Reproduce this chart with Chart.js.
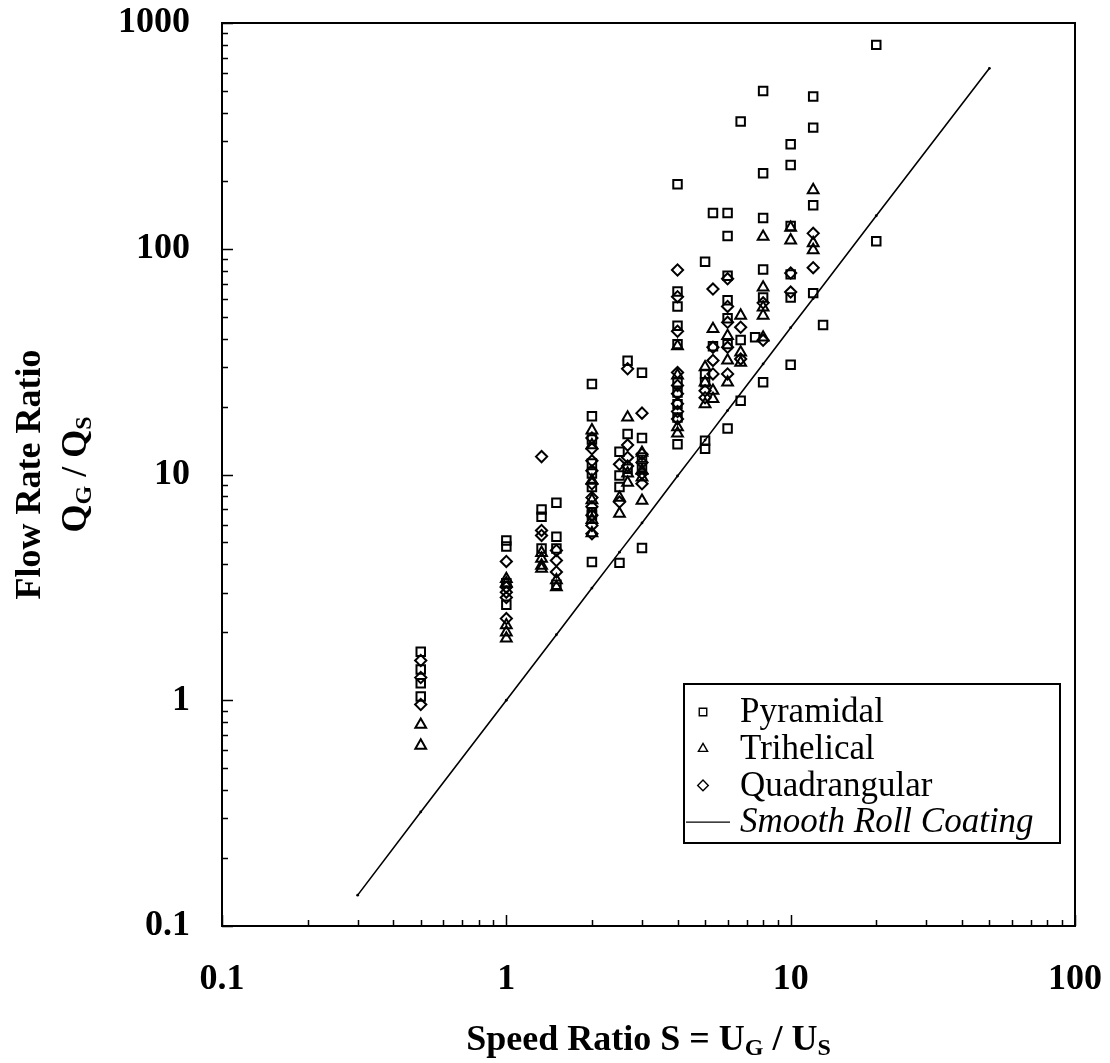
<!DOCTYPE html>
<html>
<head>
<meta charset="utf-8">
<title>Flow Rate Ratio vs Speed Ratio</title>
<script src="https://cdn.jsdelivr.net/npm/chart.js@4.4.1/dist/chart.umd.min.js"></script>
<style>
  html, body { margin: 0; padding: 0; background: #fff; }
  #wrap { width: 1110px; height: 1063px; }
</style>
</head>
<body>
<div id="wrap"><canvas id="chart" width="1110" height="1063"></canvas></div>
<script>
// axis decades (tick labels)
const xTickLabels = [0.1, 1, 10, 100];
const yTickLabels = [0.1, 1, 10, 100, 1000];

// Pyramidal roll: speed ratio S and flow rate ratio QG/QS
const pyramidalS = [
    0.5, 0.5, 0.5, 0.5,
    1, 1, 1, 1,
    1.33, 1.33, 1.33,
    1.5, 1.5, 1.5, 1.5,
    2, 2, 2, 2, 2, 2, 2, 2, 2,
    2.5, 2.5, 2.5, 2.5,
    2.67, 2.67, 2.67,
    3, 3, 3, 3, 3,
    4, 4, 4, 4, 4, 4, 4, 4, 4, 4,
    5, 5, 5, 5, 5,
    5.33, 5.33,
    6, 6, 6, 6, 6, 6, 6,
    6.67, 6.67, 6.67,
    7.5,
    8, 8, 8, 8, 8, 8,
    10, 10, 10, 10, 10, 10,
    12, 12, 12, 12,
    13,
    20, 20
];
const pyramidalQ = [
    1.64, 1.37, 1.19, 1.04,
    5.1, 4.8, 3.3, 2.65,
    7.0, 6.5, 4.7,
    7.5, 5.3, 4.7, 3.25,
    25.2, 18.1, 14.3, 11.2, 10.1, 8.8, 6.8, 6.6, 4.1,
    12.6, 9.9, 8.8, 4.06,
    31.9, 15.1, 10.6,
    28.2, 14.5, 11.9, 10.7, 4.72,
    193, 64.7, 55.5, 45.6, 37.8, 25.6, 23.1, 20.5, 17.9, 13.6,
    87.6, 27.9, 25.6, 14.1, 13.0,
    144, 37,
    144, 114, 76, 59.2, 49.2, 37.8, 16.0,
    366, 39.4, 21.2,
    40.5,
    500, 216, 137, 81, 60.8, 25.6,
    290, 235, 126, 77, 60.8, 30.6,
    472, 344, 156, 63.6,
    45.9,
    800, 108
];

// Trihelical roll
const trihelicalS = [
    0.5, 0.5,
    1, 1, 1, 1, 1,
    1.33, 1.33, 1.33, 1.33,
    1.5, 1.5,
    2, 2, 2, 2, 2, 2,
    2.5, 2.5,
    2.67, 2.67, 2.67,
    3, 3, 3, 3,
    4, 4, 4, 4,
    5, 5, 5,
    5.33, 5.33, 5.33,
    6, 6, 6,
    6.67, 6.67, 6.67,
    8, 8, 8, 8, 8,
    10, 10,
    12, 12, 12
];
const trihelicalQ = [
    0.78, 0.63,
    3.45, 3.3, 2.15, 2.0, 1.88,
    4.5, 4.24, 3.95, 3.83,
    3.4, 3.17,
    15.7, 13.5, 9.4, 7.7, 6.3, 5.5,
    7.9, 6.7,
    17.9, 10.1, 9.2,
    12.5, 10.4, 9.7, 7.66,
    37, 27.5, 16.2, 15.2,
    29.9, 25.6, 20.5,
    44.1, 23.5, 21.6,
    41.1, 32, 25.6,
    50.6, 34.7, 31.3,
    113, 67.4, 55, 50.6, 40.5,
    124, 109,
    182, 106, 98.7
];

// Quadrangular roll
const quadrangularS = [
    0.5, 0.5, 0.5,
    1, 1, 1, 1, 1,
    1.33, 1.33, 1.33,
    1.5, 1.5, 1.5,
    2, 2, 2, 2, 2, 2, 2, 2, 2, 2,
    2.5, 2.5,
    2.67, 2.67, 2.67, 2.67,
    3, 3, 3, 3, 3,
    4, 4, 4, 4, 4, 4, 4, 4, 4,
    5, 5,
    5.33, 5.33, 5.33, 5.33,
    6, 6, 6, 6, 6,
    6.67, 6.67,
    8, 8,
    10, 10,
    12, 12
];
const quadrangularQ = [
    1.50, 1.26, 0.957,
    4.12, 3.17, 3.01, 2.85, 2.3,
    12.0, 5.65, 5.37,
    4.61, 4.16, 3.70,
    14.5, 13.0, 11.5, 10.4, 9.1, 7.9, 7.2, 6.6, 5.95, 5.47,
    11.1, 7.55,
    29.4, 13.5, 11.9, 10.9,
    18.7, 12.3, 11.3, 10.1, 9.1,
    80.5, 61.3, 43.1, 28.3, 24.8, 22.8, 20.6, 19, 17.6,
    23.5, 21.9,
    66.3, 36.6, 32, 27.9,
    73.6, 55.5, 47.2, 36.6, 27.9,
    44.9, 32.5,
    57.6, 39.3,
    78, 64.3,
    117, 82.4
];

// Smooth roll coating reference line
const smoothS = [0.3, 0.5, 1, 1.5, 2, 2.5, 3, 4, 5, 6, 8, 10, 12, 20, 50];
const smoothQ = [0.137, 0.32, 1.0, 1.95, 3.14, 4.53, 6.1, 9.85, 14.2, 19.2, 30.9, 44.7, 60.2, 140, 630];

const SERIF = '"Liberation Serif", "Times New Roman", serif';

function zip(xs, ys) {
    return xs.map((x, i) => ({ x: x, y: ys[i] }));
}

// 1..9 in every decade between the labelled decades
function logTicks(decades) {
    const ticks = [];
    for (let i = 0; i < decades.length - 1; i++) {
        for (let m = 1; m < 10; m++) {
            ticks.push({ value: parseFloat((decades[i] * m).toPrecision(6)) });
        }
    }
    ticks.push({ value: decades[decades.length - 1] });
    return ticks;
}

function isDecade(v) {
    const l = Math.log10(v);
    return Math.abs(l - Math.round(l)) < 1e-6;
}

// text with subscripts: parts = [[text, isSub], ...]
function drawParts(ctx, parts, x, y, size) {
    const big = `bold ${size}px ${SERIF}`;
    const small = `bold ${Math.round(size * 0.66)}px ${SERIF}`;
    let total = 0;
    parts.forEach(([t, sub]) => {
        ctx.font = sub ? small : big;
        total += ctx.measureText(t).width;
    });
    let cx = x - total / 2;
    ctx.textAlign = "left";
    ctx.textBaseline = "alphabetic";
    parts.forEach(([t, sub]) => {
        ctx.font = sub ? small : big;
        ctx.fillText(t, cx, sub ? y + 5 : y);
        cx += ctx.measureText(t).width;
    });
}

// frame, inside ticks, axis titles and the boxed legend
const framePlugin = {
    id: "frame",
    beforeDraw(chart) {
        const ctx = chart.ctx;
        ctx.save();
        ctx.fillStyle = "#fff";
        ctx.fillRect(0, 0, chart.width, chart.height);
        ctx.restore();
    },
    afterDraw(chart) {
        const ctx = chart.ctx;
        const { left, right, top, bottom } = chart.chartArea;
        const xs = chart.scales.x;
        const ys = chart.scales.y;

        ctx.save();
        ctx.strokeStyle = "#000";
        ctx.fillStyle = "#000";
        ctx.lineWidth = 2;
        ctx.strokeRect(left, top, right - left, bottom - top);

        ctx.lineWidth = 1.5;
        ctx.beginPath();
        xs.ticks.forEach(t => {
            const px = Math.round(xs.getPixelForValue(t.value)) + 0.5;
            const len = isDecade(t.value) ? 11 : 6;
            ctx.moveTo(px, bottom);
            ctx.lineTo(px, bottom - len);
        });
        ys.ticks.forEach(t => {
            const py = Math.round(ys.getPixelForValue(t.value)) + 0.5;
            const len = isDecade(t.value) ? 11 : 6;
            ctx.moveTo(left, py);
            ctx.lineTo(left + len, py);
        });
        ctx.stroke();

        // x title
        drawParts(ctx, [["Speed Ratio S = U", false], ["G", true], [" / U", false], ["S", true]],
            (left + right) / 2, 1050, 36);

        // y title, rotated
        ctx.save();
        ctx.translate(0, (top + bottom) / 2);
        ctx.rotate(-Math.PI / 2);
        ctx.font = `bold 36px ${SERIF}`;
        ctx.textAlign = "center";
        ctx.textBaseline = "alphabetic";
        ctx.fillText("Flow Rate Ratio", 0, 40);
        drawParts(ctx, [["Q", false], ["G", true], [" / Q", false], ["S", true]], 0, 86, 36);
        ctx.restore();

        // legend
        const bx = 684, by = 684, bw = 376, bh = 159;
        ctx.lineWidth = 2;
        ctx.strokeRect(bx, by, bw, bh);
        chart.data.datasets.forEach((ds, i) => {
            const ry = 712 + i * 36.7;
            ctx.lineWidth = 1.4;
            if (ds.showLine) {
                ctx.beginPath();
                ctx.moveTo(bx + 2, ry);
                ctx.lineTo(bx + 46, ry);
                ctx.stroke();
                ctx.font = `italic 35px ${SERIF}`;
            } else {
                ctx.fillStyle = "rgba(0,0,0,0)";
                Chart.helpers.drawPoint(ctx, { pointStyle: ds.pointStyle, radius: 5.3, rotation: 0, borderWidth: 1.4 }, 703, ry);
                ctx.fillStyle = "#000";
                ctx.font = `35px ${SERIF}`;
            }
            ctx.textAlign = "left";
            ctx.textBaseline = "middle";
            ctx.fillText(ds.label, 740, ry + 1);
        });
        ctx.restore();
    }
};

function markerSet(label, xs, ys, style, radius) {
    return {
        label: label,
        data: zip(xs, ys),
        pointStyle: style,
        pointRadius: radius,
        pointBorderWidth: 2,
        pointBorderColor: "#000",
        pointBackgroundColor: "rgba(0,0,0,0)",
        showLine: false
    };
}

const tickFont = { family: SERIF, size: 36, weight: "bold" };

new Chart(document.getElementById("chart"), {
    type: "scatter",
    data: {
        datasets: [
            markerSet("Pyramidal", pyramidalS, pyramidalQ, "rect", 6),
            markerSet("Trihelical", trihelicalS, trihelicalQ, "triangle", 6.2),
            markerSet("Quadrangular", quadrangularS, quadrangularQ, "rectRot", 5.6),
            {
                label: "Smooth Roll Coating",
                data: zip(smoothS, smoothQ),
                showLine: true,
                borderColor: "#000",
                borderWidth: 1.6,
                pointStyle: "circle",
                pointRadius: 1.4,
                pointBackgroundColor: "#000",
                pointBorderWidth: 0
            }
        ]
    },
    options: {
        responsive: false,
        animation: false,
        layout: { padding: { top: 23, right: 35, left: 0, bottom: 0 } },
        plugins: {
            legend: { display: false },
            tooltip: { enabled: false }
        },
        scales: {
            x: {
                type: "logarithmic",
                min: 0.1,
                max: 100,
                grid: { display: false, drawTicks: false },
                border: { display: false },
                afterBuildTicks: scale => { scale.ticks = logTicks(xTickLabels); },
                afterFit: scale => {
                    scale.height = 137;
                    scale.paddingLeft = 0;
                    scale.paddingRight = 0;
                },
                ticks: {
                    color: "#000",
                    font: tickFont,
                    padding: 32,
                    autoSkip: false,
                    maxRotation: 0,
                    minRotation: 0,
                    callback: v => xTickLabels.includes(v) ? String(v) : ""
                }
            },
            y: {
                type: "logarithmic",
                min: 0.1,
                max: 1000,
                grid: { display: false, drawTicks: false },
                border: { display: false },
                afterBuildTicks: scale => { scale.ticks = logTicks(yTickLabels); },
                afterFit: scale => {
                    scale.width = 222;
                    scale.paddingTop = 0;
                    scale.paddingBottom = 0;
                },
                ticks: {
                    color: "#000",
                    font: tickFont,
                    padding: 32,
                    autoSkip: false,
                    callback: v => yTickLabels.includes(v) ? String(v) : ""
                }
            }
        }
    },
    plugins: [framePlugin]
});
</script>
</body>
</html>
